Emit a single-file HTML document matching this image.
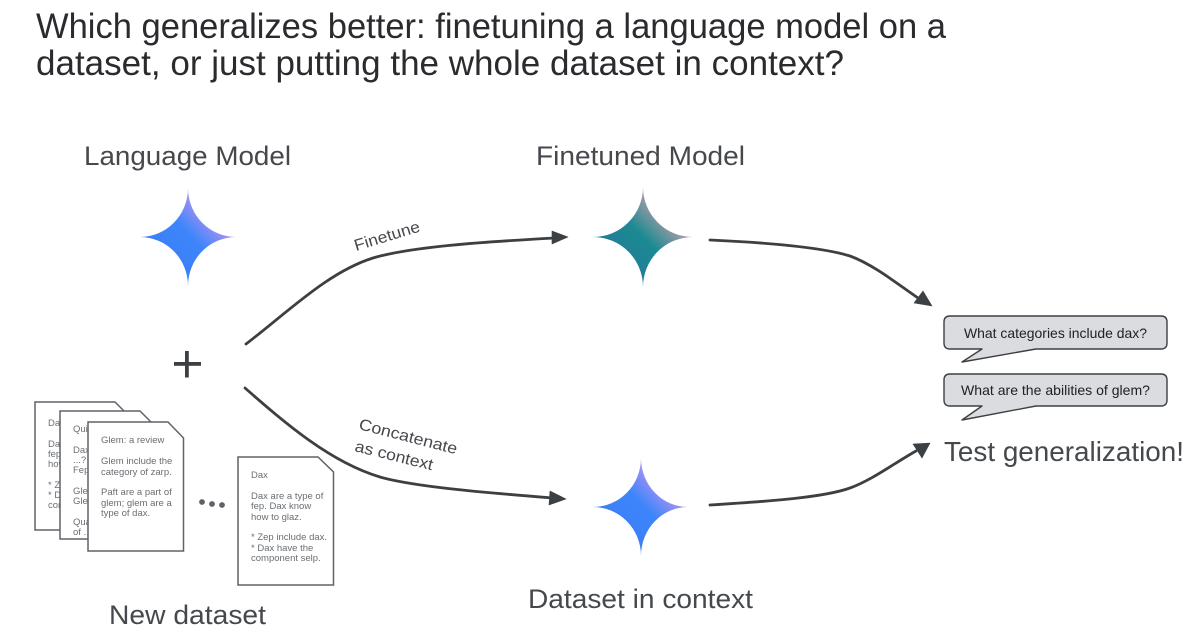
<!DOCTYPE html>
<html>
<head>
<meta charset="utf-8">
<style>
html,body{margin:0;padding:0;background:#fff;width:1200px;height:640px;overflow:hidden}
svg{display:block}
text{font-family:"Liberation Sans",sans-serif}
.doc{fill:#fff;stroke:#5f6368;stroke-width:1.5}
.d{font-size:9.5px;fill:#6a6e72}
.lab{font-size:27px;fill:#45484c}
.arr{fill:none;stroke:#3c4043;stroke-width:2.8;stroke-linecap:round}
.head{fill:#3c4043;stroke:#3c4043;stroke-width:.6;stroke-linejoin:round}
.bub{fill:#dadce0;stroke:#3c4043;stroke-width:1.4;stroke-linejoin:round}
</style>
</head>
<body>
<svg width="1200" height="640" viewBox="0 0 1200 640" xmlns="http://www.w3.org/2000/svg">
<defs>
<linearGradient id="g1" x1="0" y1="1" x2="1" y2="0">
<stop offset="0" stop-color="#3a78f2"/><stop offset=".52" stop-color="#3d85fa"/><stop offset=".7" stop-color="#9a90f6"/><stop offset="1" stop-color="#cfa8f0"/>
</linearGradient>
<linearGradient id="g2" x1="0" y1="1" x2="1" y2="0">
<stop offset="0" stop-color="#2a6f9e"/><stop offset=".5" stop-color="#1b8a92"/><stop offset=".7" stop-color="#9a9aa4"/><stop offset="1" stop-color="#c4a6b0"/>
</linearGradient>
</defs>

<text x="36" y="38" font-size="35" fill="#2a2b2e" textLength="910" lengthAdjust="spacingAndGlyphs">Which generalizes better: finetuning a language model on a</text>
<text x="36" y="75" font-size="35" fill="#2a2b2e" textLength="808" lengthAdjust="spacingAndGlyphs">dataset, or just putting the whole dataset in context?</text>

<text class="lab" x="84" y="165" textLength="207" lengthAdjust="spacingAndGlyphs">Language Model</text>
<text class="lab" x="536" y="165" textLength="209" lengthAdjust="spacingAndGlyphs">Finetuned Model</text>
<text class="lab" x="109" y="624" textLength="157" lengthAdjust="spacingAndGlyphs">New dataset</text>
<text class="lab" x="528" y="608" textLength="225" lengthAdjust="spacingAndGlyphs">Dataset in context</text>

<path fill="url(#g1)" d="M188 188 A48 49 0 0 0 236 237 A48 49 0 0 0 188 286 A48 49 0 0 0 140 237 A48 49 0 0 0 188 188Z"/>
<path fill="url(#g2)" d="M643 187 A50 50 0 0 0 693 237 A50 50 0 0 0 643 287 A50 50 0 0 0 593 237 A50 50 0 0 0 643 187Z"/>
<path fill="url(#g1)" d="M641 458 A47 49 0 0 0 688 507 A47 49 0 0 0 641 556 A48 49 0 0 0 593 507 A48 49 0 0 0 641 458Z"/>

<rect x="174" y="362" width="27" height="3.800" fill="#3c4043"/>
<rect x="185" y="351" width="3.800" height="26.500" fill="#3c4043"/>

<!-- documents -->
<path class="doc" d="M35 402H115L130 417V530H35Z"/>
<text class="d" x="48" y="426">Dax</text>
<text class="d" x="48" y="447">Dax</text>
<text class="d" x="48" y="457">fep</text>
<text class="d" x="48" y="467">how</text>
<text class="d" x="48" y="488">* Ze</text>
<text class="d" x="48" y="498">* Da</text>
<text class="d" x="48" y="508">com</text>
<path class="doc" d="M60 411H140L156 427V539H60Z"/>
<text class="d" x="73" y="432">Quiz</text>
<text class="d" x="73" y="453">Dax</text>
<text class="d" x="73" y="463">...?</text>
<text class="d" x="73" y="473">Fep</text>
<text class="d" x="73" y="494">Glem</text>
<text class="d" x="73" y="504">Glem</text>
<text class="d" x="73" y="525">Qua</text>
<text class="d" x="73" y="535">of ...</text>
<path class="doc" d="M88 422H168L183.500 438V551H88Z"/>
<text class="d" x="101" y="443">Glem: a review</text>
<text class="d" x="101" y="464">Glem include the</text>
<text class="d" x="101" y="475">category of zarp.</text>
<text class="d" x="101" y="495">Paft are a part of</text>
<text class="d" x="101" y="506">glem; glem are a</text>
<text class="d" x="101" y="516">type of dax.</text>

<circle cx="202" cy="502" r="2.900" fill="#5f6368"/>
<circle cx="212" cy="504" r="2.900" fill="#5f6368"/>
<circle cx="222" cy="505" r="2.900" fill="#5f6368"/>

<path class="doc" d="M238 457H318L333.500 472V585H238Z"/>
<text class="d" x="251" y="478">Dax</text>
<text class="d" x="251" y="499">Dax are a type of</text>
<text class="d" x="251" y="509">fep. Dax know</text>
<text class="d" x="251" y="520">how to glaz.</text>
<text class="d" x="251" y="540">* Zep include dax.</text>
<text class="d" x="251" y="551">* Dax have the</text>
<text class="d" x="251" y="561">component selp.</text>

<!-- arrows -->
<path class="arr" d="M246 344 C288 312 328 272 373 258 C410 247 480 242 555 238"/>
<path class="head" d="M552 231L568 237L552 244Z"/>
<path class="arr" d="M245 388 C285 423 330 462 380 477 C415 487 490 493 553 498"/>
<path class="head" d="M550 491L566 499L549 505Z"/>
<path class="arr" d="M710 240 C775 243 825 248 850 256 C872 264 895 282 918 298"/>
<path class="head" d="M923 291L932 306L914 303Z"/>
<path class="arr" d="M710 505 C775 501 825 497 850 488 C872 480 893 464 916 451"/>
<path class="head" d="M913 444L930 443L922 458Z"/>

<text transform="translate(356 251) rotate(-17)" font-size="16" fill="#45484c" textLength="68" lengthAdjust="spacingAndGlyphs">Finetune</text>
<text transform="translate(358 429) rotate(14.500)" font-size="16" fill="#45484c" textLength="101" lengthAdjust="spacingAndGlyphs">Concatenate</text>
<text transform="translate(354 451) rotate(14)" font-size="16" fill="#45484c" textLength="80" lengthAdjust="spacingAndGlyphs">as context</text>

<!-- bubbles -->
<path class="bub" d="M950 316H1161Q1167 316 1167 322V343Q1167 349 1161 349H1036L962 362L982 349H950Q944 349 944 343V322Q944 316 950 316Z"/>
<path class="bub" d="M950 374H1161Q1167 374 1167 380V400Q1167 406 1161 406H1036L962 420L982 406H950Q944 406 944 400V380Q944 374 950 374Z"/>
<text x="964" y="338" font-size="14" fill="#202124" textLength="183" lengthAdjust="spacingAndGlyphs">What categories include dax?</text>
<text x="961" y="395" font-size="14" fill="#202124" textLength="189" lengthAdjust="spacingAndGlyphs">What are the abilities of glem?</text>
<text x="944" y="461" font-size="28" fill="#45484c" textLength="240" lengthAdjust="spacingAndGlyphs">Test generalization!</text>
</svg>
</body>
</html>
